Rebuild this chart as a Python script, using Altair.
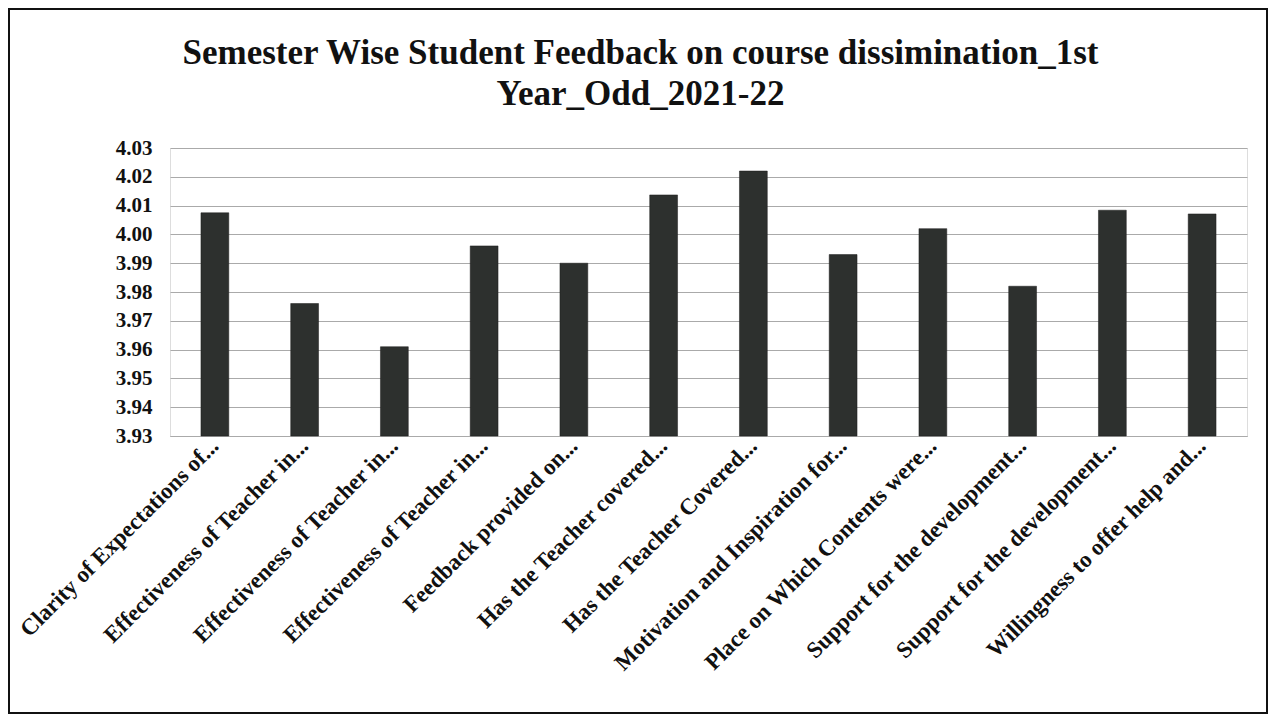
import altair as alt
import pandas as pd

labels = [
    "Clarity of Expectations of...",
    "Effectiveness of Teacher in...",
    "Effectiveness of Teacher in...",
    "Effectiveness of Teacher in...",
    "Feedback provided on...",
    "Has the Teacher covered...",
    "Has the Teacher Covered...",
    "Motivation and Inspiration for...",
    "Place on Which Contents were...",
    "Support for the development...",
    "Support for the development...",
    "Willingness to offer help and...",
]
values = [4.0075, 3.976, 3.961, 3.996, 3.990, 4.0137, 4.022, 3.993, 4.002, 3.982, 4.0084, 4.0071]
y_ticks = [3.93, 3.94, 3.95, 3.96, 3.97, 3.98, 3.99, 4.00, 4.01, 4.02, 4.03]
y_min, y_max = 3.93, 4.03

df = pd.DataFrame({"idx": list(range(len(labels))), "value": values})

W, H = 1077, 288
FONT = "Liberation Serif"

label_js = "[" + ",".join("'" + s.replace("'", "\\'") + "'" for s in labels) + "]"

bars = alt.Chart(df).mark_bar(color="#2d302e", stroke="#1c1c1c", strokeWidth=0.5).encode(
    x=alt.X(
        "idx:O",
        scale=alt.Scale(paddingInner=0.69, paddingOuter=0.345),
        axis=alt.Axis(
            title=None,
            labelExpr=label_js + "[datum.value]",
            labelAngle=-45,
            labelAlign="right",
            labelBaseline="middle",
            labelFont=FONT,
            labelFontWeight="bold",
            labelFontSize=23,
            labelColor="#111111",
            labelPadding=6,
            ticks=False,
            domain=True,
            domainColor="#aaaaaa",
            labelOverlap=False,
            labelLimit=500,
        ),
    ),
    y=alt.Y(
        "value:Q",
        scale=alt.Scale(domain=[y_min, y_max], zero=False, nice=False),
        axis=alt.Axis(
            title=None,
            values=y_ticks,
            format=".2f",
            labelFont=FONT,
            labelFontWeight="bold",
            labelFontSize=21,
            labelColor="#111111",
            labelPadding=18,
            ticks=False,
            domain=False,
            grid=True,
            gridColor="#aaaaaa",
            gridWidth=1,
        ),
    ),
    y2=alt.datum(y_min),
)

border = alt.Chart(pd.DataFrame({"a": [0]})).mark_rect(
    fill=None, stroke="#111111", strokeWidth=2
).encode(
    x=alt.value(-161), x2=alt.value(1097), y=alt.value(-139), y2=alt.value(565)
)

chart = alt.layer(bars, border).properties(
    width=W,
    height=H,
    title=alt.TitleParams(
        text=["Semester Wise Student Feedback on course dissimination_1st", "Year_Odd_2021-22"],
        font=FONT,
        fontSize=35,
        fontWeight="bold",
        color="#111111",
        lineHeight=41,
        anchor="middle",
        dx=-68,
        offset=-104,
    ),
    autosize=alt.AutoSizeParams(type="none"),
    padding={"left": 162, "top": 140, "right": 22, "bottom": 279},
).configure_view(stroke=None).configure(background="white")

chart.save("out.html", embed_options={"renderer": "svg", "actions": False})
